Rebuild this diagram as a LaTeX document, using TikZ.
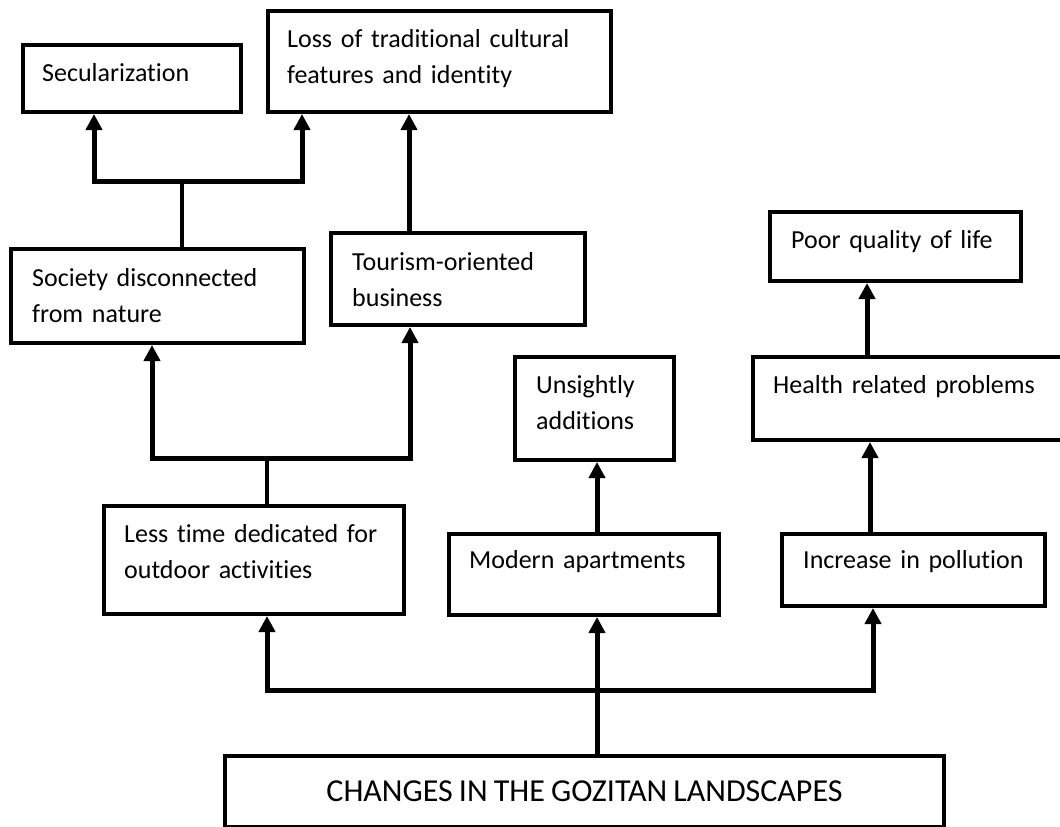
\documentclass[tikz,border=0pt]{standalone}
\usepackage{fontspec}
\setmainfont{Carlito}[Ligatures=NoCommon, WordSpace=0.85]
\usetikzlibrary{arrows.meta}

\begin{document}
\begin{tikzpicture}[x=1pt, y=-1pt,
  box/.style={draw=black, line width=4pt, inner sep=0pt, anchor=north west, fill=white},
  txt/.style={anchor=base west, inner sep=0pt, text width=330pt, align=left,
              font=\fontsize{26}{36.5}\selectfont},
  arr/.style={line width=5pt, -{Triangle[width=16pt,length=16pt]}},
  twoarr/.style={line width=5pt, {Triangle[width=16pt,length=16pt]}-{Triangle[width=16pt,length=16pt]}},
  stem/.style={line width=3.8pt}]
\useasboundingbox (0,0) rectangle (1060,827);

% boxes
\node[box, minimum width=218pt, minimum height=67pt]  (sec)  at (21,43)   {};
\node[box, minimum width=343pt, minimum height=101pt] (loss) at (266,9)   {};
\node[box, minimum width=293pt, minimum height=94pt]  (soc)  at (9,247)   {};
\node[box, minimum width=254pt, minimum height=92pt]  (tour) at (329,231) {};
\node[box, minimum width=251pt, minimum height=69pt]  (poor) at (768,210) {};
\node[box, minimum width=159pt, minimum height=103pt] (uns)  at (513,355) {};
\node[box, minimum width=315pt, minimum height=83pt]  (hlth) at (751,355) {};
\node[box, minimum width=300pt, minimum height=108pt] (less) at (102,504) {};
\node[box, minimum width=270pt, minimum height=81pt]  (mod)  at (447,532) {};
\node[box, minimum width=263pt, minimum height=72pt]  (inc)  at (780,532) {};
\node[box, minimum width=719pt, minimum height=71pt,
      font=\fontsize{32}{38}\selectfont] (chg) at (223,754) {CHANGES IN THE GOZITAN LANDSCAPES};

% box texts
\node[txt] (secT)  at (42,81)   {Secularization};
\node[txt] (lossT) at (287,47)  {Loss of traditional cultural\\features and identity};
\node[txt] (socT)  at (32,286)  {Society disconnected\\from nature};
\node[txt] (tourT) at (352,270) {Tourism-oriented\\business};
\node[txt] (poorT) at (791,248) {Poor quality of life};
\node[txt] (unsT)  at (536,393) {Unsightly\\additions};
\node[txt] (hlthT) at (773,393) {Health related problems};
\node[txt] (lessT) at (124,542) {Less time dedicated for\\outdoor activities};
\node[txt] (modT)  at (469,568) {Modern apartments};
\node[txt] (incT)  at (803,568) {Increase in pollution};

% branch points
\coordinate (j1) at (182,181);
\coordinate (j1l) at (94,181);
\coordinate (j1r) at (302,181);
\coordinate (j2) at (267,458);
\coordinate (j2l) at (152,458);
\coordinate (j2r) at (410,458);
\coordinate (j3) at (597,690);
\coordinate (j3l) at (267,690);
\coordinate (j3r) at (873,690);

% society -> secularization / loss of identity
\draw[stem] (j1 |- soc.north) -- (j1);
\draw[twoarr] (j1l |- sec.south) -- (j1l) -- (j1r) -- (j1r |- loss.south);

% tourism -> loss of identity
\draw[arr] (409,0 |- tour.north) -- (409,0 |- loss.south);

% less time -> society / tourism
\draw[stem] (j2 |- less.north) -- (j2);
\draw[twoarr] (j2l |- soc.south) -- (j2l) -- (j2r) -- (j2r |- tour.south);

% changes -> less time / modern apartments / pollution
\draw[arr] (j3 |- chg.north) -- (j3 |- mod.south);
\draw[twoarr] (j3l |- less.south) -- (j3l) -- (j3r) -- (j3r |- inc.south);

% modern apartments -> unsightly additions
\draw[arr] (j3 |- mod.north) -- (j3 |- uns.south);

% pollution -> health -> quality of life
\draw[arr] (870,0 |- inc.north) -- (870,0 |- hlth.south);
\draw[arr] (867,0 |- hlth.north) -- (867,0 |- poor.south);
\end{tikzpicture}
\end{document}
